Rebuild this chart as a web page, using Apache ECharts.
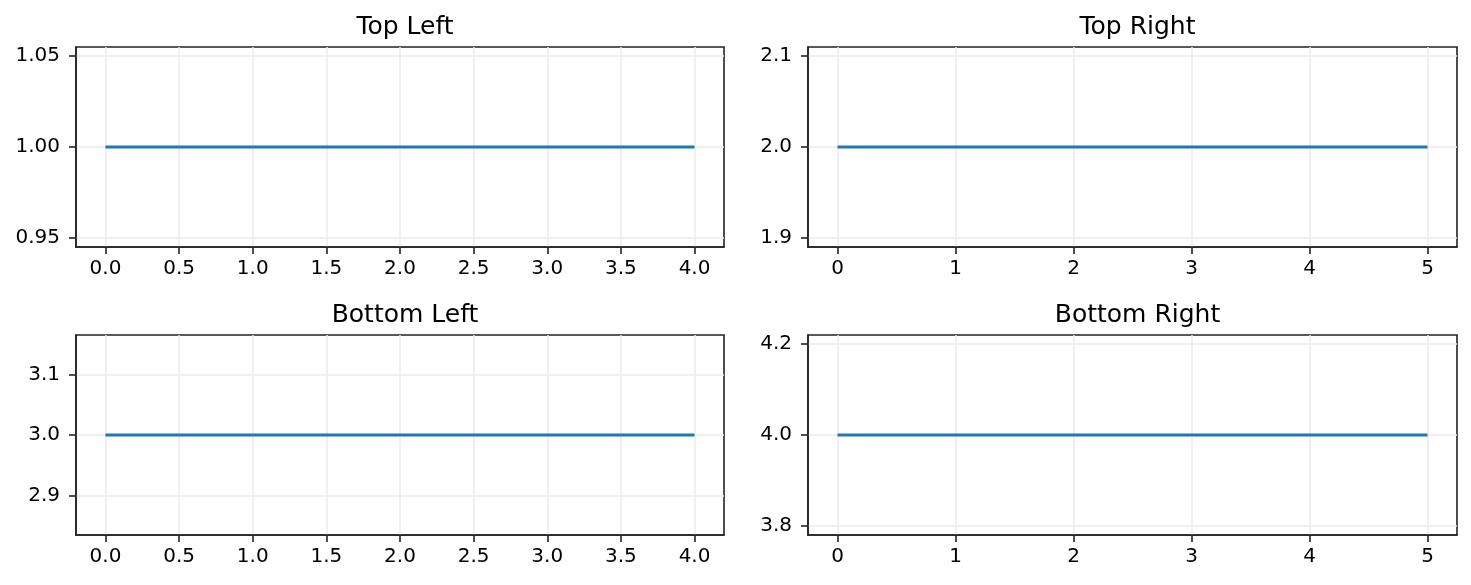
<!DOCTYPE html>
<html>
<head>
<meta charset="utf-8">
<script src="https://cdn.jsdelivr.net/npm/echarts@6/dist/echarts.min.js"></script>
<style>
html,body{margin:0;padding:0;background:#fff;}
#chart{width:1471px;height:585px;}
</style>
</head>
<body>
<div id="chart"></div>
<script>
// ---- data ----
const titles = ["Top Left", "Top Right", "Bottom Left", "Bottom Right"];
const xTopLeft = [0, 1, 2, 3, 4];
const yTopLeft = [1, 1, 1, 1, 1];
const xTopRight = [0, 1, 2, 3, 4, 5];
const yTopRight = [2, 2, 2, 2, 2, 2];
const xBottomLeft = [0, 1, 2, 3, 4];
const yBottomLeft = [3, 3, 3, 3, 3];
const xBottomRight = [0, 1, 2, 3, 4, 5];
const yBottomRight = [4, 4, 4, 4, 4, 4];

const xTicksLeft = [0, 0.5, 1, 1.5, 2, 2.5, 3, 3.5, 4];
const xTicksRight = [0, 1, 2, 3, 4, 5];
const yTicksTopLeft = [0.95, 1.00, 1.05];
const yTicksTopRight = [1.9, 2.0, 2.1];
const yTicksBottomLeft = [2.9, 3.0, 3.1];
const yTicksBottomRight = [3.8, 4.0, 4.2];

// axis limits (matplotlib-style margins)
const xLimLeft = [-0.2, 4.2];
const xLimRight = [-0.25, 5.25];
const yLimTopLeft = [0.945, 1.055];
const yLimTopRight = [1.89, 2.11];
const yLimBottomLeft = [2.835, 3.165];
const yLimBottomRight = [3.78, 4.22];

// ---- layout / style ----
const FONT = "DejaVu Sans";
const grids = [
  {left: 76, top: 47, width: 648, height: 200},
  {left: 808, top: 47, width: 649, height: 200},
  {left: 76, top: 335, width: 648, height: 200},
  {left: 808, top: 335, width: 649, height: 200}
];
const panels = [
  {x: xTopLeft, y: yTopLeft, xt: xTicksLeft, yt: yTicksTopLeft, xl: xLimLeft, yl: yLimTopLeft, xd: 1, yd: 2},
  {x: xTopRight, y: yTopRight, xt: xTicksRight, yt: yTicksTopRight, xl: xLimRight, yl: yLimTopRight, xd: 0, yd: 1},
  {x: xBottomLeft, y: yBottomLeft, xt: xTicksLeft, yt: yTicksBottomLeft, xl: xLimLeft, yl: yLimBottomLeft, xd: 1, yd: 1},
  {x: xBottomRight, y: yBottomRight, xt: xTicksRight, yt: yTicksBottomRight, xl: xLimRight, yl: yLimBottomRight, xd: 0, yd: 1}
];

const SPINE = '#222';
const axisLineStyle = {show: true, onZero: false, lineStyle: {color: SPINE, width: 1.6}};
const tickStyle = {show: true, inside: false, length: 7, lineStyle: {color: SPINE, width: 1.6}};
const splitStyle = {show: true, lineStyle: {color: '#ebebeb', width: 1.5}};

const option = {
  backgroundColor: '#fff',
  animation: false,
  title: grids.map((g, i) => ({
    text: titles[i],
    left: g.left + g.width / 2,
    top: g.top - 37,
    textAlign: 'center',
    textStyle: {fontFamily: FONT, fontSize: 25, fontWeight: 'normal', color: '#000'}
  })),
  grid: grids.map(g => Object.assign({show: true, borderColor: SPINE, borderWidth: 1.6, backgroundColor: 'transparent'}, g)),
  xAxis: panels.map((p, i) => ({
    type: 'value', gridIndex: i, position: 'bottom', min: p.xl[0], max: p.xl[1],
    axisLine: axisLineStyle,
    axisTick: Object.assign({customValues: p.xt}, tickStyle),
    axisLabel: {customValues: p.xt, margin: 12, color: '#000', fontFamily: FONT, fontSize: 20,
      formatter: v => Number(v).toFixed(p.xd)},
    splitLine: splitStyle
  })),
  yAxis: panels.map((p, i) => ({
    type: 'value', gridIndex: i, position: 'left', min: p.yl[0], max: p.yl[1],
    axisLine: axisLineStyle,
    axisTick: Object.assign({customValues: p.yt}, tickStyle),
    axisLabel: {customValues: p.yt, margin: 16, color: '#000', fontFamily: FONT, fontSize: 20,
      formatter: v => Number(v).toFixed(p.yd)},
    splitLine: splitStyle
  })),
  series: panels.map((p, i) => ({
    type: 'line', xAxisIndex: i, yAxisIndex: i,
    data: p.x.map((xv, k) => [xv, p.y[k]]),
    showSymbol: false, symbol: 'none',
    lineStyle: {color: '#1f77b4', width: 3},
    z: 3
  }))
};

const chart = echarts.init(document.getElementById('chart'), null, {renderer: 'canvas'});
chart.setOption(option);
</script>
</body>
</html>
